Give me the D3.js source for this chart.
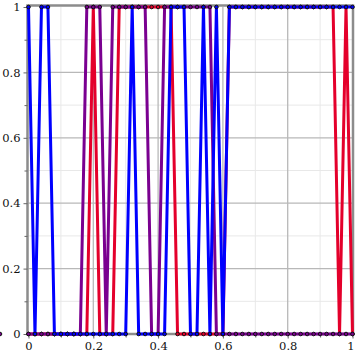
<!DOCTYPE html>
<html>
<head>
<meta charset="utf-8">
<script src="https://cdn.jsdelivr.net/npm/d3@7"></script>
<style>
  html, body { margin: 0; padding: 0; background: #fff; }
  svg { display: block; }
</style>
</head>
<body>
<svg id="chart" width="355" height="355"></svg>
<script>
// ---- data ----
const xValues = [0,0.02,0.04,0.06,0.08,0.1,0.12,0.14,0.16,0.18,0.2,0.22,0.24,0.26,0.28,0.3,0.32,0.34,0.36,0.38,0.4,0.42,0.44,0.46,0.48,0.5,0.52,0.54,0.56,0.58,0.6,0.62,0.64,0.66,0.68,0.7,0.72,0.74,0.76,0.78,0.8,0.82,0.84,0.86,0.88,0.9,0.92,0.94,0.96,0.98,1];
const redValues = [0,0,0,0,0,0,0,0,0,0, 1, 0,0,0, 1,1,1,1,1,1,1,1,1, 0,0,0,0,0,0,0,0, 1,1,1,1,1,1,1,1,1,1,1,1,1,1,1,1,1, 0,1,0];
const purpleValues = [0,0,0,0,0,0,0,0,0, 1,1,1, 0, 1,1,1,1,1,1, 0,0, 1,1,1,1,1,1,1,1, 0,0,0,0,0,0,0,0,0,0,0,0,0,0,0,0,0,0,0,0,0,0,0];
const blueValues = [1,0,1,1, 0,0,0,0,0,0,0,0,0,0,0,0, 1, 0,0,0,0,0, 1,1,1, 0,0, 1, 0, 1, 0, 1,1,1,1,1,1,1,1,1,1,1,1,1,1,1,1,1,1,1,1];
const seriesNames = ["red", "purple", "blue"];
const seriesColors = ["#e4002b", "#7a0090", "#0000ff"];
const majorTicks = [0, 0.2, 0.4, 0.6, 0.8, 1];
const minorTicks = [0.1, 0.3, 0.5, 0.7, 0.9];
const tickLabels = ["0", "0.2", "0.4", "0.6", "0.8", "1"];

// ---- layout ----
const svg = d3.select("#chart");
const pLeft = 28.5, pRight = 352.5, pTop = 7, pBottom = 334;
const x = d3.scaleLinear().domain([0, 1]).range([pLeft, pRight]);
const y = d3.scaleLinear().domain([0, 1]).range([pBottom, pTop]);
const font = "DejaVu Serif";

// grid
const g = svg.append("g");
g.selectAll(".vminor").data(minorTicks).join("line")
  .attr("x1", d => x(d)).attr("x2", d => x(d)).attr("y1", pTop).attr("y2", pBottom)
  .attr("stroke", "#e8e8e8").attr("stroke-width", 1);
g.selectAll(".hminor").data(minorTicks).join("line")
  .attr("y1", d => y(d)).attr("y2", d => y(d)).attr("x1", pLeft).attr("x2", pRight)
  .attr("stroke", "#e8e8e8").attr("stroke-width", 1);
g.selectAll(".vmajor").data(majorTicks.slice(1, -1)).join("line")
  .attr("x1", d => x(d)).attr("x2", d => x(d)).attr("y1", pTop).attr("y2", pBottom)
  .attr("stroke", "#b8b8b8").attr("stroke-width", 1.3);
g.selectAll(".hmajor").data(majorTicks.slice(1, -1)).join("line")
  .attr("y1", d => y(d)).attr("y2", d => y(d)).attr("x1", pLeft).attr("x2", pRight)
  .attr("stroke", "#b8b8b8").attr("stroke-width", 1.3);

// frame
svg.append("rect").attr("x", pLeft - 1).attr("y", pTop - 1.5).attr("width", pRight - pLeft + 1.5).attr("height", pBottom - pTop + 1.5)
  .attr("fill", "none").attr("stroke", "#8c8c8c").attr("stroke-width", 2.5);

// axes
const yAxis = d3.axisLeft(y).tickValues(majorTicks).tickFormat((d, i) => tickLabels[i]).tickSize(4).tickPadding(3);
const xAxis = d3.axisBottom(x).tickValues(majorTicks).tickFormat((d, i) => tickLabels[i]).tickSize(4).tickPadding(3);
const ya = svg.append("g").attr("transform", `translate(${pLeft - 1},0)`).call(yAxis);
const xa = svg.append("g").attr("transform", `translate(0,${pBottom + 0.5})`).call(xAxis);
[ya, xa].forEach(a => {
  a.select(".domain").remove();
  a.selectAll("line").attr("stroke", "#666");
  a.selectAll("text").attr("font-family", font).attr("font-size", 11.5).attr("fill", "#111");
});
// keep the last x label inside the window
xa.selectAll(".tick").filter(d => d === 1).select("text").attr("dx", -2);
const yMinor = d3.axisLeft(y).tickValues(minorTicks).tickFormat("").tickSize(3);
const xMinor = d3.axisBottom(x).tickValues(minorTicks).tickFormat("").tickSize(3);
svg.append("g").attr("transform", `translate(${pLeft - 1},0)`).call(yMinor)
  .call(a => { a.select(".domain").remove(); a.selectAll("line").attr("stroke", "#666"); });
svg.append("g").attr("transform", `translate(0,${pBottom + 0.5})`).call(xMinor)
  .call(a => { a.select(".domain").remove(); a.selectAll("line").attr("stroke", "#666"); });

// series
const allSeries = [redValues, purpleValues, blueValues];
const line = d3.line().x((d, i) => x(xValues[i])).y(d => y(d));
allSeries.forEach((vals, si) => {
  const sg = svg.append("g").attr("class", "series-" + seriesNames[si]);
  sg.append("path").datum(vals)
    .attr("d", line)
    .attr("fill", "none")
    .attr("stroke", seriesColors[si])
    .attr("stroke-width", 3)
    .attr("stroke-linejoin", "miter")
    .attr("stroke-miterlimit", 2);
  sg.selectAll("circle").data(vals).join("circle")
    .attr("cx", (d, i) => x(xValues[i]))
    .attr("cy", d => y(d))
    .attr("r", 1.8)
    .attr("fill", seriesColors[si])
    .attr("stroke", "#111")
    .attr("stroke-width", 1);
});
</script>
</body>
</html>
